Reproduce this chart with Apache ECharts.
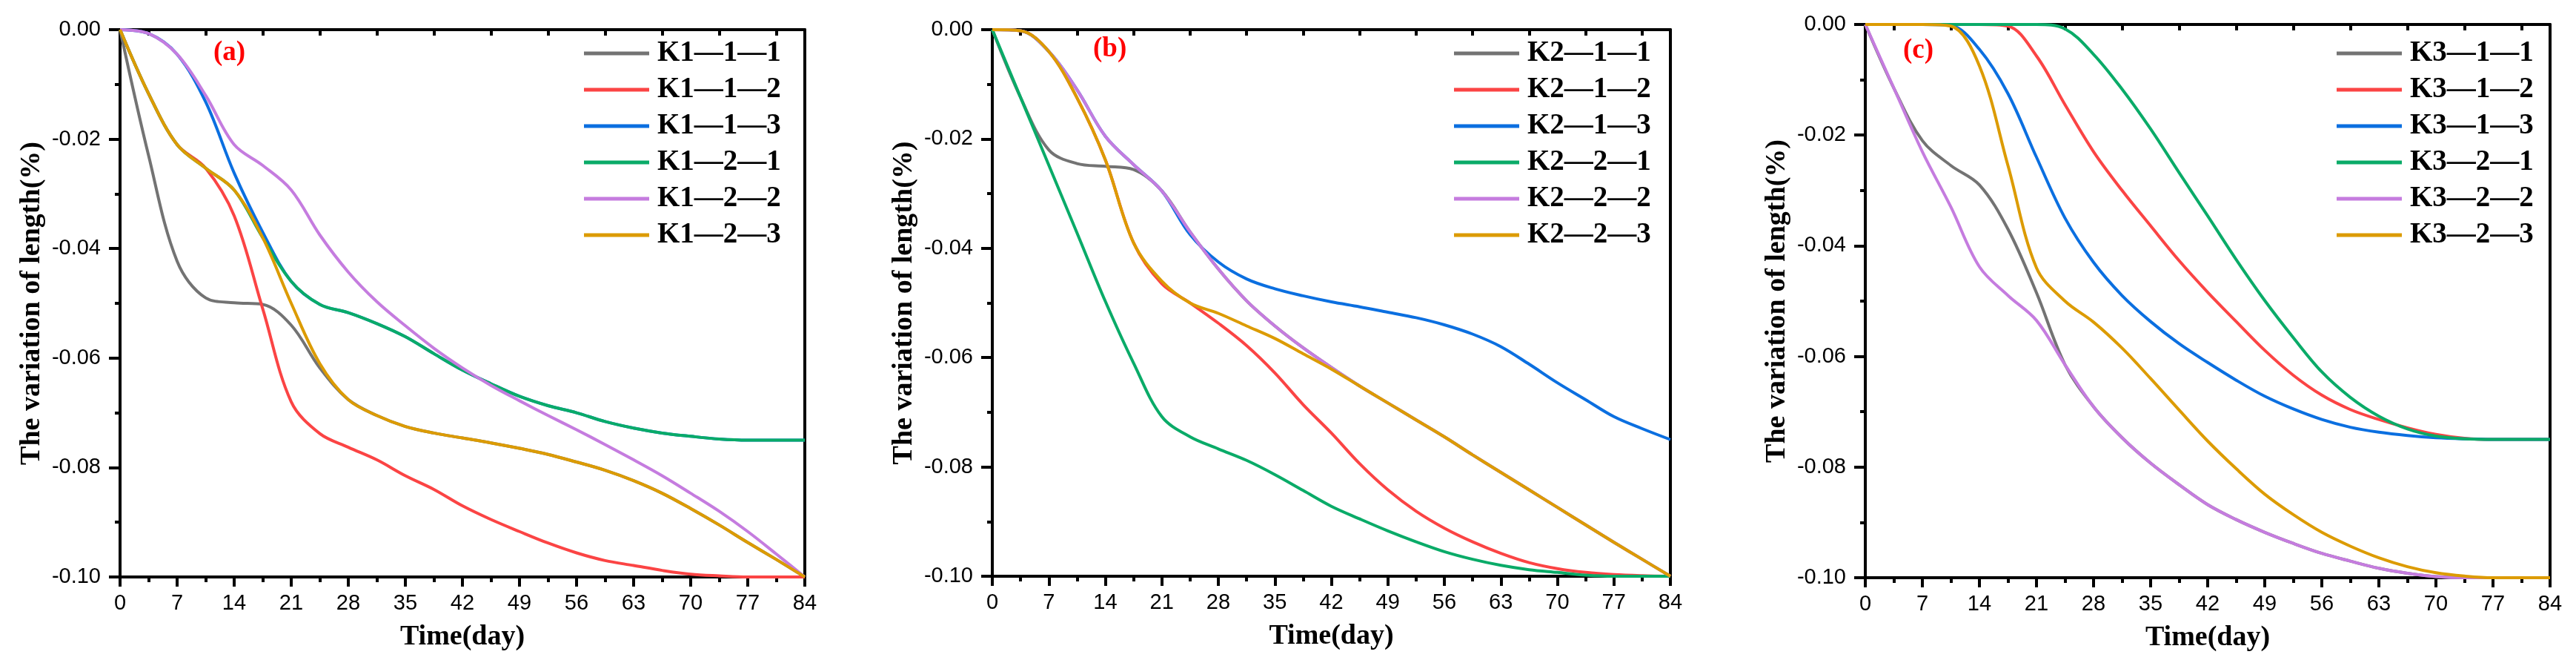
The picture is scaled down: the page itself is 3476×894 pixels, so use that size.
<!DOCTYPE html>
<html>
<head>
<meta charset="utf-8">
<script src="https://cdn.jsdelivr.net/npm/echarts@6/dist/echarts.min.js"></script>
<style>
  html, body { margin: 0; padding: 0; background: #fff; }
  #chart { width: 3476px; height: 894px; }
</style>
</head>
<body>
<div id="chart"></div>
<script>
// sample days shared by every curve
const days = [0, 3.5, 7, 10.5, 14, 17.5, 21, 24.5, 28, 31.5, 35, 38.5, 42, 45.5, 49, 52.5, 56, 59.5, 63, 66.5, 70, 73.5, 77, 80.5, 84];
const xTicks = [0, 7, 14, 21, 28, 35, 42, 49, 56, 63, 70, 77, 84];
const topTicks = [3.5, 10.5, 17.5, 24.5, 31.5, 38.5, 45.5, 52.5, 59.5, 66.5, 73.5, 80.5];

// panel (a)
const k1_1_1 = [0, -0.0230, -0.0423, -0.0490, -0.0499, -0.0502, -0.0540, -0.0618, -0.0676, -0.0705, -0.0725, -0.0737, -0.0746, -0.0755, -0.0765, -0.0776, -0.0790, -0.0805, -0.0824, -0.0847, -0.0875, -0.0905, -0.0937, -0.0968, -0.100];
const k1_1_2 = [0, -0.0117, -0.0210, -0.0253, -0.0340, -0.0510, -0.0680, -0.0738, -0.0763, -0.0786, -0.0815, -0.0840, -0.0870, -0.0895, -0.0917, -0.0938, -0.0956, -0.0970, -0.0979, -0.0988, -0.0995, -0.0998, -0.100, -0.100, -0.100];
const k1_1_3 = [0, -0.0007, -0.0045, -0.0132, -0.0262, -0.0370, -0.0460, -0.0502, -0.0517, -0.0537, -0.0561, -0.0592, -0.0622, -0.0647, -0.0670, -0.0687, -0.0700, -0.0716, -0.0728, -0.0737, -0.0743, -0.0748, -0.0750, -0.0750, -0.0750];
const k1_2_1 = [0, -0.0117, -0.0210, -0.0253, -0.0293, -0.0380, -0.0460, -0.0502, -0.0517, -0.0537, -0.0561, -0.0592, -0.0622, -0.0647, -0.0670, -0.0687, -0.0700, -0.0716, -0.0728, -0.0737, -0.0743, -0.0748, -0.0750, -0.0750, -0.0750];
const k1_2_2 = [0, -0.0007, -0.0045, -0.0120, -0.0210, -0.0248, -0.0293, -0.0375, -0.0443, -0.0497, -0.0541, -0.0582, -0.0618, -0.0650, -0.0678, -0.0705, -0.0731, -0.0758, -0.0786, -0.0815, -0.0847, -0.0880, -0.0917, -0.0958, -0.100];
const k1_2_3 = [0, -0.0117, -0.0210, -0.0253, -0.0293, -0.0380, -0.0500, -0.0610, -0.0676, -0.0705, -0.0725, -0.0737, -0.0746, -0.0755, -0.0765, -0.0776, -0.0790, -0.0805, -0.0824, -0.0847, -0.0875, -0.0905, -0.0937, -0.0968, -0.100];

// panel (b)
const k2_1_1 = [0, -0.0124, -0.0220, -0.0245, -0.0250, -0.0256, -0.0295, -0.0370, -0.0438, -0.0496, -0.0542, -0.0582, -0.0618, -0.0652, -0.0683, -0.0714, -0.0745, -0.0778, -0.0810, -0.0842, -0.0874, -0.0906, -0.0938, -0.0969, -0.100];
const k2_1_2 = [0, -0.0002, -0.0040, -0.0125, -0.0238, -0.0390, -0.0465, -0.0500, -0.0537, -0.0578, -0.0628, -0.0686, -0.0738, -0.0794, -0.0842, -0.0881, -0.0912, -0.0937, -0.0958, -0.0975, -0.0986, -0.0993, -0.0997, -0.0999, -0.100];
const k2_1_3 = [0, -0.0002, -0.0040, -0.0110, -0.0195, -0.0247, -0.0295, -0.0375, -0.0425, -0.0456, -0.0474, -0.0487, -0.0498, -0.0507, -0.0517, -0.0527, -0.0540, -0.0557, -0.0580, -0.0612, -0.0646, -0.0677, -0.0708, -0.0730, -0.0750];
const k2_2_1 = [0, -0.0124, -0.0248, -0.0372, -0.0497, -0.0610, -0.0708, -0.0745, -0.0767, -0.0788, -0.0814, -0.0843, -0.0872, -0.0895, -0.0917, -0.0937, -0.0955, -0.0969, -0.0980, -0.0988, -0.0993, -0.0998, -0.100, -0.100, -0.100];
const k2_2_2 = [0, -0.0002, -0.0040, -0.0110, -0.0195, -0.0247, -0.0295, -0.0370, -0.0438, -0.0496, -0.0542, -0.0582, -0.0618, -0.0652, -0.0683, -0.0714, -0.0745, -0.0778, -0.0810, -0.0842, -0.0874, -0.0906, -0.0938, -0.0969, -0.100];
const k2_2_3 = [0, -0.0002, -0.0040, -0.0125, -0.0238, -0.0390, -0.0460, -0.0500, -0.0519, -0.0542, -0.0565, -0.0593, -0.0621, -0.0652, -0.0683, -0.0714, -0.0745, -0.0778, -0.0810, -0.0842, -0.0874, -0.0906, -0.0938, -0.0969, -0.100];

// panel (c)
const k3_1_1 = [0, -0.0115, -0.0210, -0.0255, -0.0290, -0.0370, -0.0485, -0.0615, -0.0691, -0.0747, -0.0793, -0.0832, -0.0868, -0.0895, -0.0918, -0.0938, -0.0956, -0.0970, -0.0983, -0.0992, -0.0998, -0.100, -0.100, -0.100, -0.100];
const k3_1_2 = [0, 0, 0, 0, 0, -0.0003, -0.0057, -0.0145, -0.0230, -0.0300, -0.0364, -0.0427, -0.0484, -0.0537, -0.0589, -0.0634, -0.0670, -0.0696, -0.0714, -0.0729, -0.0741, -0.0748, -0.0750, -0.0750, -0.0750];
const k3_1_3 = [0, 0, 0, -0.0002, -0.0045, -0.0125, -0.0240, -0.0350, -0.0430, -0.0490, -0.0537, -0.0577, -0.0611, -0.0643, -0.0672, -0.0695, -0.0714, -0.0728, -0.0737, -0.0743, -0.0747, -0.0749, -0.0750, -0.0750, -0.0750];
const k3_2_1 = [0, 0, 0, 0, 0, 0, 0, -0.0008, -0.0054, -0.0117, -0.0189, -0.0268, -0.0346, -0.0425, -0.0499, -0.0566, -0.0628, -0.0674, -0.0708, -0.0731, -0.0744, -0.0749, -0.0750, -0.0750, -0.0750];
const k3_2_2 = [0, -0.0115, -0.0230, -0.0330, -0.0438, -0.0490, -0.0535, -0.0615, -0.0691, -0.0747, -0.0793, -0.0832, -0.0868, -0.0895, -0.0918, -0.0938, -0.0956, -0.0970, -0.0983, -0.0992, -0.0998, -0.100, -0.100, -0.100, -0.100];
const k3_2_3 = [0, 0, 0, -0.0003, -0.0075, -0.0255, -0.0440, -0.0500, -0.0538, -0.0585, -0.0640, -0.0697, -0.0753, -0.0803, -0.0849, -0.0886, -0.0918, -0.0943, -0.0964, -0.0980, -0.0991, -0.0997, -0.100, -0.100, -0.100];

const colors = ['#737373', '#fb4444', '#0b6fe0', '#0aab68', '#c57cdf', '#dc9b00'];

const panels = [
  { tag: '(a)', names: ['K1—1—1', 'K1—1—2', 'K1—1—3', 'K1—2—1', 'K1—2—2', 'K1—2—3'],
    data: [k1_1_1, k1_1_2, k1_1_3, k1_2_1, k1_2_2, k1_2_3],
    grid: { left: 162, top: 40, width: 924, height: 738 }, legendLeft: 783, tagPos: [310, 73] },
  { tag: '(b)', names: ['K2—1—1', 'K2—1—2', 'K2—1—3', 'K2—2—1', 'K2—2—2', 'K2—2—3'],
    data: [k2_1_1, k2_1_2, k2_1_3, k2_2_1, k2_2_2, k2_2_3],
    grid: { left: 1339, top: 40, width: 915, height: 737 }, legendLeft: 1957, tagPos: [1497, 68] },
  { tag: '(c)', names: ['K3—1—1', 'K3—1—2', 'K3—1—3', 'K3—2—1', 'K3—2—2', 'K3—2—3'],
    data: [k3_1_1, k3_1_2, k3_1_3, k3_2_1, k3_2_2, k3_2_3],
    grid: { left: 2517, top: 33, width: 924, height: 746 }, legendLeft: 3148, tagPos: [2590, 70] }
];

const serif = 'Liberation Serif, Times New Roman, serif';
const sans = 'Liberation Sans, Arial, sans-serif';
const black = '#000';

const option = {
  animation: false,
  backgroundColor: '#fff',
  grid: [], xAxis: [], yAxis: [], legend: [], series: [], graphic: []
};

panels.forEach((p, i) => {
  option.grid.push(p.grid);
  // bottom axis
  option.xAxis.push({
    type: 'value', gridIndex: i, min: 0, max: 84, interval: 7, position: 'bottom',
    name: 'Time(day)', nameLocation: 'middle', nameGap: 62,
    nameTextStyle: { fontFamily: serif, fontWeight: 'bold', fontSize: 38, color: black },
    axisLine: { onZero: false, lineStyle: { color: black, width: 4 } },
    axisTick: { length: 13, lineStyle: { color: black, width: 4 } },
    minorTick: { show: true, splitNumber: 2, length: 7, lineStyle: { color: black, width: 4 } },
    axisLabel: { fontFamily: sans, fontSize: 29, color: black, margin: 21,
      customValues: xTicks },
    splitLine: { show: false }
  });
  // top mirror axis
  option.xAxis.push({
    type: 'value', gridIndex: i, min: 0, max: 84, position: 'top',
    axisLine: { onZero: false, lineStyle: { color: black, width: 4 } },
    axisTick: { inside: true, length: 8, customValues: topTicks, lineStyle: { color: black, width: 4 } },
    axisLabel: { show: false },
    splitLine: { show: false }
  });
  option.yAxis.push({
    type: 'value', gridIndex: i, min: -0.1, max: 0, interval: 0.02, position: 'left',
    name: 'The variation of length(%)', nameLocation: 'middle', nameGap: 100, nameRotate: 90,
    nameTextStyle: { fontFamily: serif, fontWeight: 'bold', fontSize: 38, color: black },
    axisLine: { onZero: false, lineStyle: { color: black, width: 4 } },
    axisTick: { length: 15, lineStyle: { color: black, width: 4 } },
    minorTick: { show: true, splitNumber: 2, length: 7, lineStyle: { color: black, width: 4 } },
    axisLabel: { fontFamily: sans, fontSize: 29, color: black, margin: 26,
      formatter: v => v.toFixed(2) },
    splitLine: { show: false }
  });
  option.yAxis.push({
    type: 'value', gridIndex: i, min: -0.1, max: 0, position: 'right',
    axisLine: { onZero: false, lineStyle: { color: black, width: 4 } },
    axisTick: { show: false }, axisLabel: { show: false }, splitLine: { show: false }
  });
  option.legend.push({
    data: p.names, orient: 'vertical', left: p.legendLeft, top: 47,
    icon: 'rect', itemWidth: 88, itemHeight: 5, itemGap: 9,
    textStyle: { fontFamily: serif, fontWeight: 'bold', fontSize: 39, color: black,
      lineHeight: 40, padding: [0, 0, 0, 6] }
  });
  p.names.forEach((name, j) => {
    option.series.push({
      name, type: 'line', xAxisIndex: 2 * i, yAxisIndex: 2 * i,
      data: days.map((d, k) => [d, p.data[j][k]]),
      smooth: 0.35, symbol: 'none',
      lineStyle: { width: 4, color: colors[j] }, itemStyle: { color: colors[j] }
    });
  });
  option.graphic.push({
    type: 'text', left: p.tagPos[0] - 22, top: p.tagPos[1] - 20,
    style: { text: p.tag, fill: '#ff0000', font: 'bold 37px ' + serif }
  });
});

const chart = echarts.init(document.getElementById('chart'));
chart.setOption(option);
</script>
</body>
</html>
